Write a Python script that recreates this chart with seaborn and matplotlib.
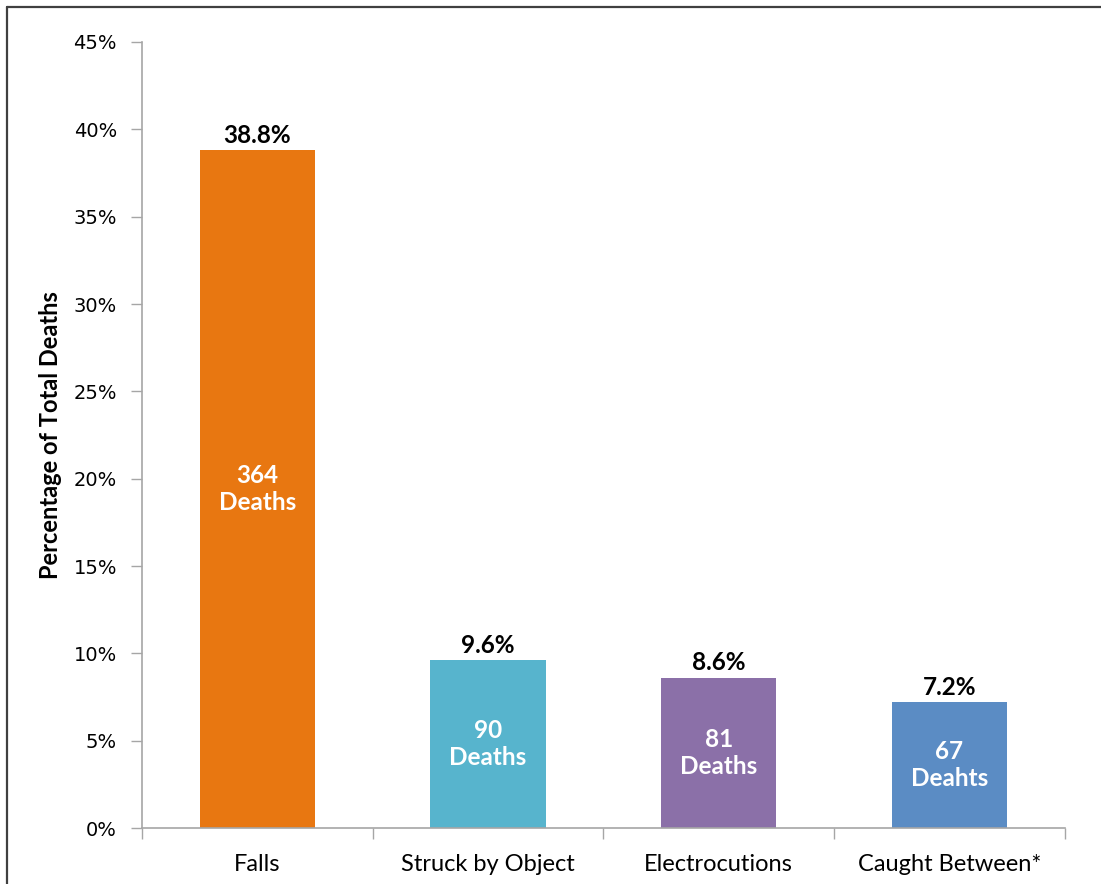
import matplotlib
matplotlib.use("Agg")
import matplotlib.pyplot as plt
import seaborn as sns
import pandas as pd
from matplotlib.lines import Line2D
from matplotlib.ticker import FixedLocator, PercentFormatter

categories = ["Falls", "Struck by Object", "Electrocutions", "Caught Between*"]
percentages = [38.8, 9.6, 8.6, 7.2]
death_labels = ["364\nDeaths", "90\nDeaths", "81\nDeaths", "67\nDeahts"]
colors = ["#E87711", "#57B4CD", "#8B70A8", "#5B8CC4"]
y_ticks = [0, 5, 10, 15, 20, 25, 30, 35, 40, 45]

sns.set_theme(style="white")
plt.rcParams["font.family"] = ["Lato", "DejaVu Sans"]

df = pd.DataFrame({"cat": categories, "pct": percentages})

fig = plt.figure(figsize=(11.01, 8.84), dpi=100)
ax = fig.add_axes([0.129, 0.0633, 0.838, 0.8892])

sns.barplot(data=df, x="cat", y="pct", hue="cat", palette=colors, legend=False,
            width=0.5, ax=ax, saturation=1, edgecolor="none")

ax.set_xlim(-0.5, 3.5)
ax.set_ylim(0, 45)
ax.yaxis.set_major_locator(FixedLocator(y_ticks))
ax.yaxis.set_major_formatter(PercentFormatter(decimals=0))
for lbl in ax.get_yticklabels():
    lbl.set_family("DejaVu Sans")
ax.tick_params(axis="y", labelsize=14, length=8, width=1, color="#A6A6A6",
               direction="out", pad=10, left=True, labelcolor="#000000")
ax.tick_params(axis="x", which="major", length=0, labelsize=17, pad=19,
               labelcolor="#000000")
ax.set_xticks([-0.5, 0.5, 1.5, 2.5, 3.5], minor=True)
ax.tick_params(axis="x", which="minor", length=8, width=1, color="#A6A6A6",
               direction="out", bottom=True)

for side in ["top", "right"]:
    ax.spines[side].set_visible(False)
for side in ["left", "bottom"]:
    ax.spines[side].set_color("#A6A6A6")
    ax.spines[side].set_linewidth(1.2)

ax.set_xlabel("")
ax.set_ylabel("Percentage of Total Deaths", fontsize=17, fontweight="bold",
              labelpad=8, color="#000000")

for i, (p, d) in enumerate(zip(percentages, death_labels)):
    ax.text(i, p + 0.2, f"{p:.1f}%", ha="center", va="bottom", fontsize=17.5,
            fontweight="bold", color="#000000")
    ax.text(i, p / 2, d, ha="center", va="center", fontsize=17.5,
            fontweight="bold", color="white", linespacing=1.2)

# figure frame (top and left edges)
fig.add_artist(Line2D([0.0063, 1.0], [0.9925, 0.9925], transform=fig.transFigure,
                      color="#404040", linewidth=1.6))
fig.add_artist(Line2D([0.0063, 0.0063], [0.0, 0.9925], transform=fig.transFigure,
                      color="#404040", linewidth=1.6))

fig.savefig("out.png", dpi=100)
